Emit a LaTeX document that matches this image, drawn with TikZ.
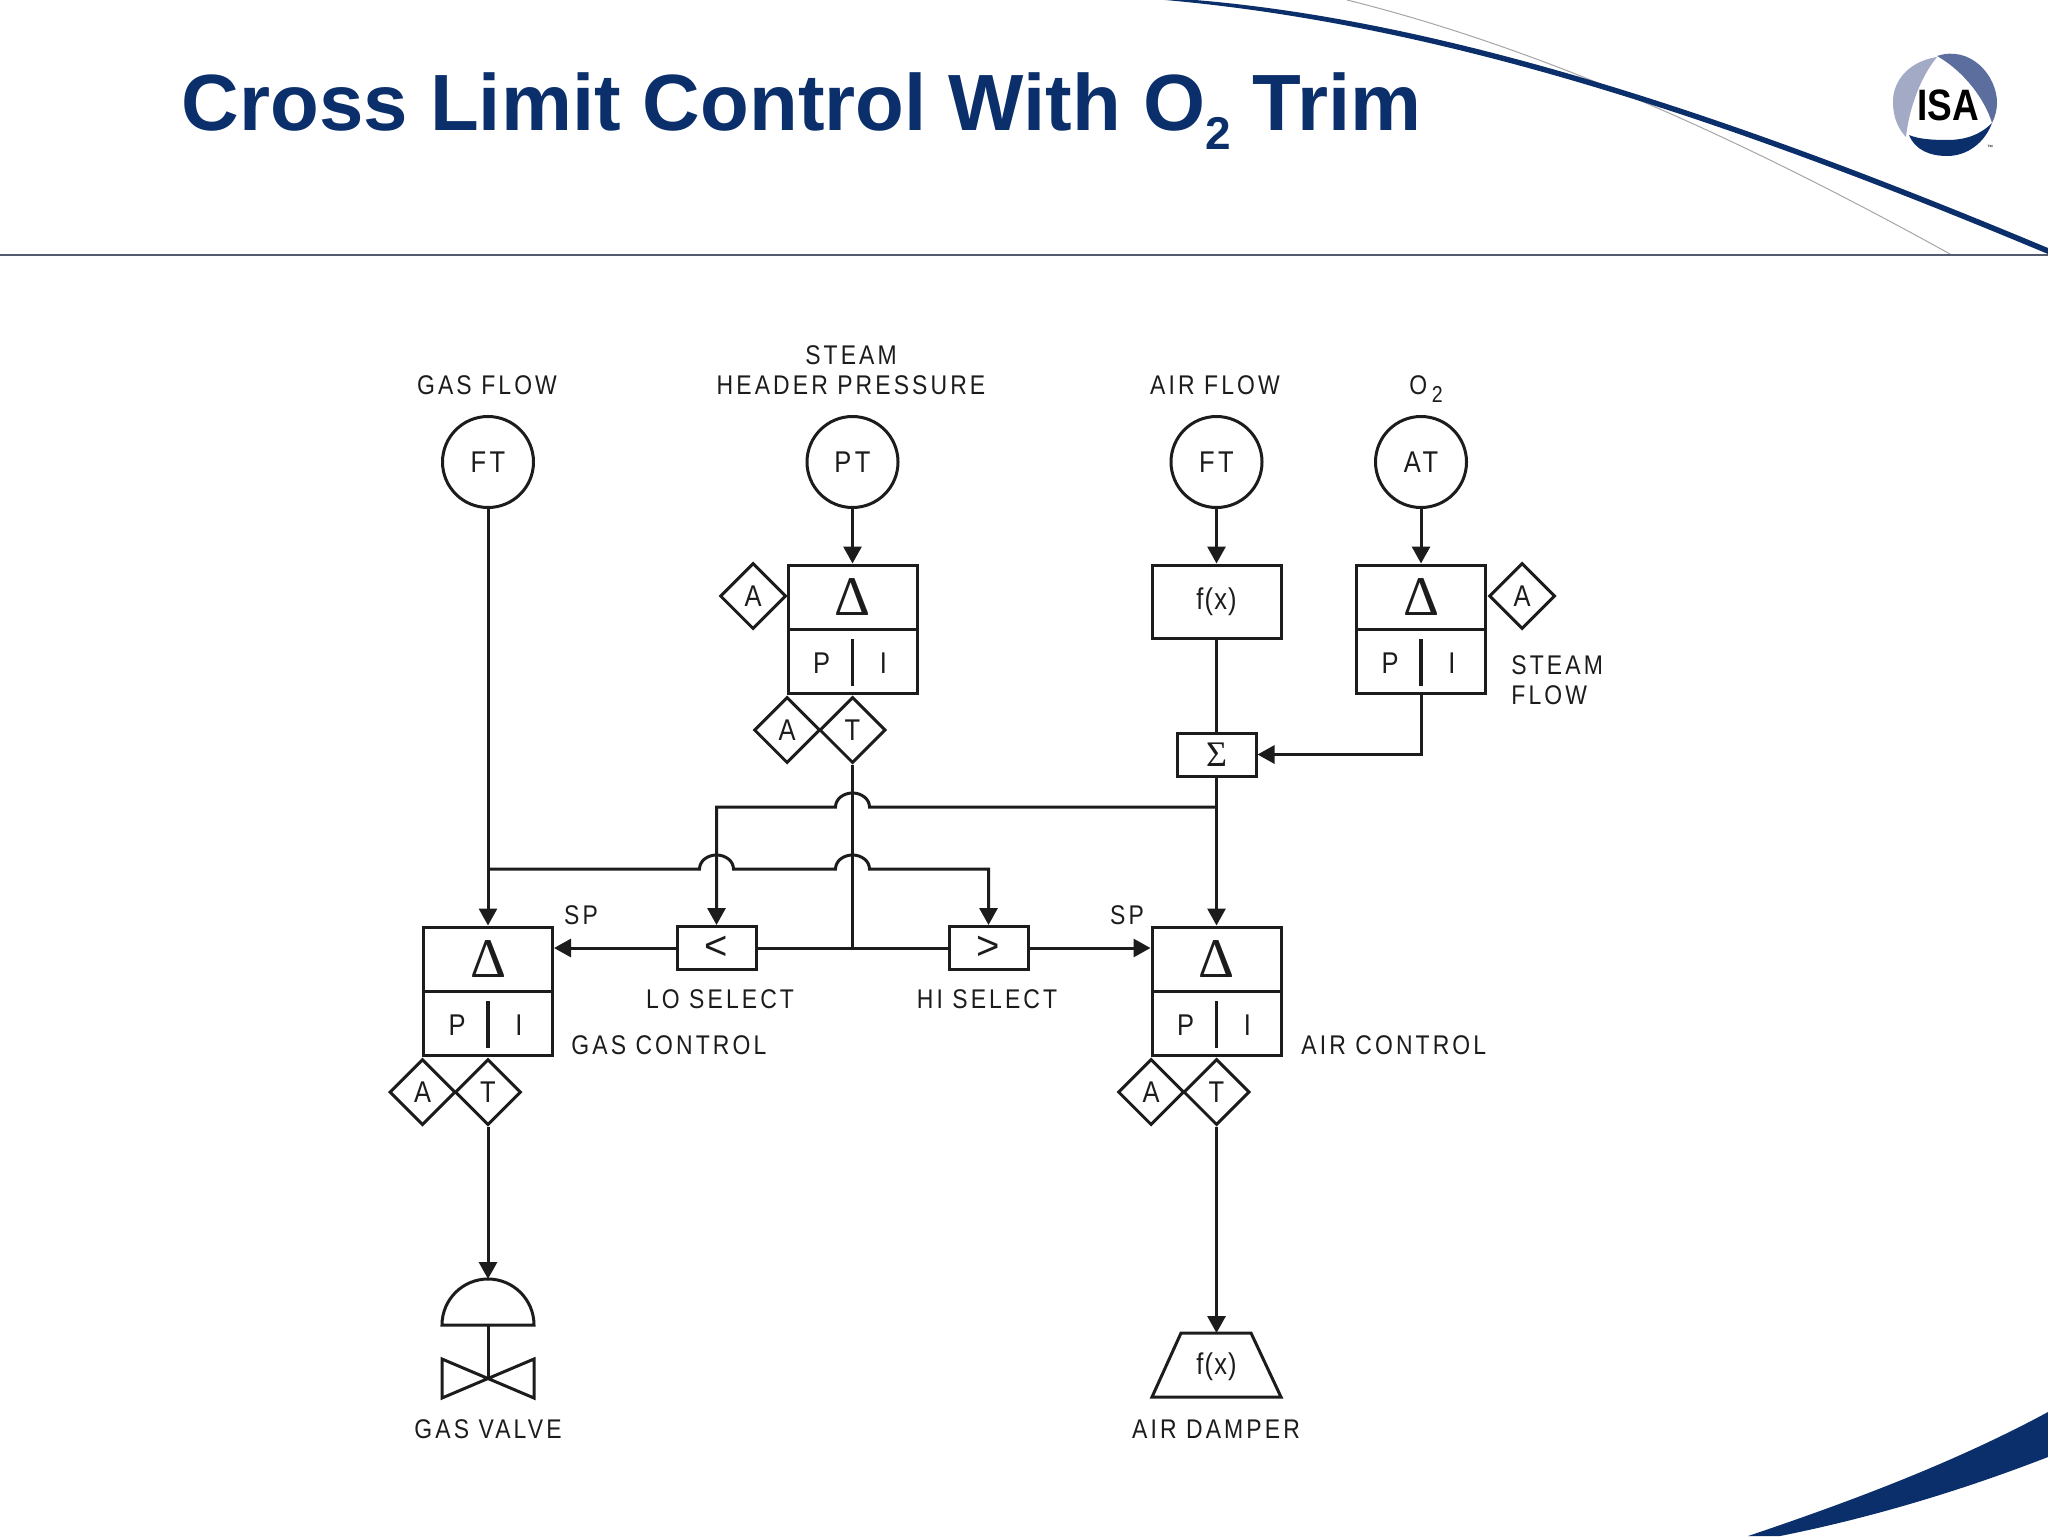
\documentclass[tikz,border=0pt]{standalone}
\usepackage{fontspec}
\setmainfont{Liberation Sans}
\newfontfamily\labelfont[LetterSpace=11.5,FakeStretch=0.85]{Liberation Sans}
\newfontfamily\tightfont[LetterSpace=4,FakeStretch=0.85]{Liberation Sans}
\newfontfamily\symbfont{Liberation Serif}
\usetikzlibrary{shapes.geometric}
\usetikzlibrary{arrows.meta}
\definecolor{isablue}{HTML}{0B2F6B}
\definecolor{isamid}{HTML}{5C6E9E}
\definecolor{isapale}{HTML}{A3AAC6}
\definecolor{ruleline}{HTML}{555B6E}
\definecolor{inkline}{HTML}{1C1C1C}
\tikzset{
  sig/.style={line width=1.5pt,draw=inkline},
  arrowsig/.style={sig,-{Triangle[width=9pt,length=8.5pt]}},
  inst/.style={sig,circle,minimum size=45.5pt,inner sep=0pt,font=\labelfont\fontsize{15}{15}\selectfont,text=inkline},
  ctlbox/.style={sig,rectangle,minimum width=64.5pt,minimum height=32pt,inner sep=0pt,text=inkline},
  selbox/.style={sig,rectangle,minimum width=39.5pt,minimum height=21.5pt,inner sep=0pt,text=inkline},
  tag/.style={sig,diamond,aspect=1,minimum size=33pt,inner sep=0pt,font=\tightfont\fontsize{15}{15}\selectfont,text=inkline},
  lab/.style={font=\labelfont\fontsize{13.5}{15}\selectfont,text=inkline,inner sep=0pt,align=center},
  plain/.style={font=\labelfont\fontsize{15}{15}\selectfont,text=inkline,inner sep=0pt},
  fxtext/.style={font=\tightfont\fontsize{15}{15}\selectfont,text=inkline},
}
\begin{document}
\begin{tikzpicture}[x=0.5pt,y=-0.5pt]
\useasboundingbox (0,0) rectangle (2048,1536);
\fill[white] (0,0) rectangle (2048,1536);
% slide furniture
\draw[gray!70,line width=0.5pt] (1347,0) .. controls (1548,50) and (1749,143) .. (1950,254);
\fill[isablue] (1165,0) .. controls (1459,26) and (1754,131) .. (2048,254) -- (2048,248) .. controls (1754,125) and (1459,22) .. (1195,0) -- cycle;
\draw[line width=1pt,draw=ruleline] (0,254.5) -- (2048,254.5);
\fill[isablue] (1748,1536) .. controls (1840,1505) and (1950,1465) .. (2048,1412) -- (2048,1457) .. controls (1950,1495) and (1860,1520) .. (1780,1536) -- cycle;
\node[anchor=base west,inner sep=0pt,text=isablue,font=\bfseries\fontsize{39.9}{40}\selectfont] (title) at (181.5,130) {Cross Limit Control With O\raisebox{-0.24em}{\fontsize{23}{23}\selectfont 2} Trim};
% logo
\fill[isapale] (1937,57) .. controls (1905,62) and (1892,85) .. (1893,103) .. controls (1893,118) and (1899,130) .. (1906,137) .. controls (1908,115) and (1918,80) .. (1937,57) -- cycle;
\fill[isamid] (1937,56) .. controls (1970,45) and (1997,75) .. (1997,103) .. controls (1997,110) and (1995,117) .. (1992,123) .. controls (1985,100) and (1965,72) .. (1937,56) -- cycle;
\fill[isablue] (1909,135) .. controls (1915,150) and (1930,156) .. (1947,156) .. controls (1968,156) and (1985,142) .. (1992,123) .. controls (1980,135) and (1965,140) .. (1947,140) .. controls (1932,140) and (1918,139) .. (1909,135) -- cycle;
\node[inner sep=0pt,font=\bfseries\fontsize{22}{22}\selectfont] (isa) at (1948,105) {\scalebox{0.84}[1]{ISA}};
\node[inner sep=0pt,font=\fontsize{3}{3}\selectfont] (isatm) at (1990,147) {™};
% transmitters
\node[inst] (ftgas) at (488,462) {FT};
\node[inst] (ptsteam) at (852.5,462) {PT};
\node[inst] (ftair) at (1216.5,462) {FT};
\node[inst] (ato) at (1421,462) {AT};
\node[lab] (lgasflow) at (487,385) {GAS FLOW};
\node[lab] (lsteam) at (851,370) {STEAM\\HEADER PRESSURE};
\node[lab] (lairflow) at (1215,385) {AIR FLOW};
\node[lab] (lotwo) at (1426,389) {O\,\raisebox{-0.3em}{\fontsize{11.5}{11.5}\selectfont 2}};
% controllers
\foreach \ctl/\xc/\yc in {gas/488/959,air/1216.5/959,steam/852.5/597,trim/1421/597}{
  \node[ctlbox] (\ctl top) at (\xc,\yc) {\raisebox{-2pt}{\symbfont\fontsize{28}{28}\selectfont Δ}};
  \node[ctlbox] (\ctl pi) at (\xc,\yc+64) {};
  \node[plain] (\ctl p) at (\xc-31,\yc+66) {P};
  \node[plain] (\ctl i) at (\xc+31,\yc+66) {I};
  \draw[sig,line width=1.9pt] (\xc,\yc+42) -- (\xc,\yc+89);
}
\foreach \ctl/\xc/\yc in {gas/488/959,air/1216.5/959,steam/852.5/597}{
  \node[tag] (\ctl a) at (\xc-65.5,\yc+133) {A};
  \node[tag] (\ctl t) at (\xc,\yc+133) {T};
}
\node[tag] (steamauto) at (753,596) {A};
\node[tag] (trimauto) at (1522,596) {A};
% function blocks
\node[sig,rectangle,minimum width=64.5pt,minimum height=36.5pt,inner sep=0pt,fxtext] (fxair) at (1216.5,601.5) {f(x)};
\node[selbox] (sumbox) at (1216.5,754.5) {\symbfont\fontsize{18}{18}\selectfont Σ};
\node[selbox,font=\fontsize{20}{20}\selectfont] (losel) at (716.5,948) {<};
\node[selbox,font=\fontsize{20}{20}\selectfont] (hisel) at (988.5,948) {>};
\node[lab,anchor=west,align=left] (lsteamflow) at (1511,680) {STEAM\\FLOW};
\node[lab] (lspgas) at (581,915) {SP};
\node[lab] (lspair) at (1127,915) {SP};
\node[lab] (llosel) at (720,999) {LO SELECT};
\node[lab] (lhisel) at (987,999) {HI SELECT};
\node[lab,anchor=west] (lgasctl) at (571,1045) {GAS CONTROL};
\node[lab,anchor=west] (lairctl) at (1301,1045) {AIR CONTROL};
% final elements
\coordinate (valvetop) at (488,1279);
\coordinate (valveseat) at (488,1379);
\coordinate (dampertop) at (1216.5,1333);
\draw[sig,line join=miter] (442,1325) arc (180:0:23pt) -- cycle;
\draw[sig] (488,1325) -- (valveseat);
\draw[sig] (442,1359) -- (534,1398) -- (534,1359) -- (442,1398) -- cycle;
\draw[sig] (1152,1397) -- (1181,1333) -- (1251,1333) -- (1281,1397) -- cycle;
\node[fxtext,inner sep=0pt] (fxdamper) at (1216.5,1367) {f(x)};
\node[lab] (lgasvalve) at (488,1429) {GAS VALVE};
\node[lab] (lairdamper) at (1216,1429) {AIR DAMPER};
% signal lines
\coordinate (airtee) at (1216.5,807);
\coordinate (gastee) at (488,869);
\coordinate (jumpair) at (852.5,807);
\coordinate (jumpgas) at (716.5,869);
\coordinate (jumpmid) at (852.5,869);
\coordinate (midtee) at (852.5,948);
\coordinate (locorner) at (716.5,807);
\coordinate (hicorner) at (988.5,869);
\draw[arrowsig] (ftgas) -- (gastop);
\draw[arrowsig] (ptsteam) -- (steamtop);
\draw[arrowsig] (ftair) -- (fxair);
\draw[arrowsig] (ato) -- (trimtop);
\draw[sig] (fxair) -- (sumbox);
\draw[arrowsig] (sumbox) -- (airtop);
\draw[arrowsig] (trimpi.south) |- (sumbox.east);
\draw[arrowsig] (airtee) -- ([xshift=8.5pt]jumpair) arc (0:180:8.5pt and 7pt) -- (locorner) -- (losel.north);
\draw[arrowsig] (gastee) -- ([xshift=-8.5pt]jumpgas) arc (180:0:8.5pt and 7pt) -- ([xshift=-8.5pt]jumpmid) arc (180:0:8.5pt and 7pt) -- (hicorner) -- (hisel.north);
\draw[sig] (steamt) -- (midtee);
\draw[sig] (losel) -- (hisel);
\draw[arrowsig] (losel) -- (gastop.south east |- losel);
\draw[arrowsig] (hisel) -- (airtop.south west |- hisel);
\draw[arrowsig] (gast) -- (valvetop);
\draw[arrowsig] (airt) -- (dampertop);
\end{tikzpicture}
\end{document}
